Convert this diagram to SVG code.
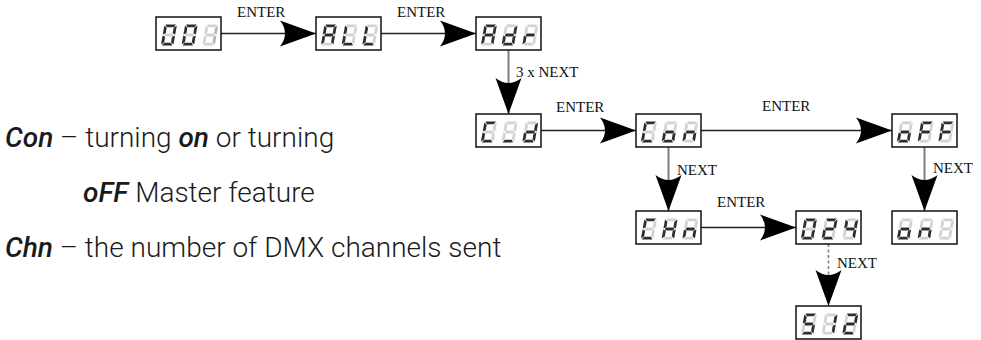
<svg xmlns="http://www.w3.org/2000/svg" xmlns:xlink="http://www.w3.org/1999/xlink" width="981" height="340" viewBox="0 0 981 340">
<style>
.box{fill:#fff;stroke:#111;stroke-width:1.5}
.hl{fill:none;stroke:#222;stroke-width:1.3}
.vl{fill:none;stroke:#808080;stroke-width:2}
.dl{fill:none;stroke:#808080;stroke-width:1.6;stroke-dasharray:3 2.5}
.lbl{font-family:"Liberation Serif","Times New Roman",serif;font-size:15px;fill:#111}
.txt{font-family:Roboto,"Liberation Sans",sans-serif;font-size:28px;font-weight:300;fill:#1a1a1a}
.em{font-style:italic;font-weight:500}
.on{fill:#2e2e2e}
.off{fill:#d2d2d2}
.dim{fill:#b4b4b4}
</style>
<defs>
<path id="sa" d="M1,0 L11.5,0 L9.7,2.8 L2.8,2.8 Z"/>
<path id="sb" d="M12.5,1 L9.7,3.3 L9.7,8.7 L12.5,10 Z"/>
<path id="sc" d="M12.5,11 L9.7,12.3 L9.7,17.7 L12.5,20 Z"/>
<path id="sd" d="M1,21 L11.5,21 L9.7,18.2 L2.8,18.2 Z"/>
<path id="se" d="M0,11 L2.8,12.3 L2.8,17.7 L0,20 Z"/>
<path id="sf" d="M0,1 L2.8,3.3 L2.8,8.7 L0,10 Z"/>
<path id="sg" d="M1.4,10.5 L2.8,9.1 L9.7,9.1 L11.1,10.5 L9.7,11.9 L2.8,11.9 Z"/>
<g id="c0"><use href="#sa" class="on"/><use href="#sb" class="on"/><use href="#sc" class="on"/><use href="#sd" class="on"/><use href="#se" class="on"/><use href="#sf" class="on"/><use href="#sg" class="off"/></g>
<g id="c1"><use href="#sa" class="off"/><use href="#sb" class="on"/><use href="#sc" class="on"/><use href="#sd" class="off"/><use href="#se" class="off"/><use href="#sf" class="off"/><use href="#sg" class="off"/></g>
<g id="c1d"><use href="#sa" class="off"/><use href="#sb" class="dim"/><use href="#sc" class="dim"/><use href="#sd" class="off"/><use href="#se" class="off"/><use href="#sf" class="off"/><use href="#sg" class="off"/></g>
<g id="c2"><use href="#sa" class="on"/><use href="#sb" class="on"/><use href="#sc" class="off"/><use href="#sd" class="on"/><use href="#se" class="on"/><use href="#sf" class="off"/><use href="#sg" class="on"/></g>
<g id="c4"><use href="#sa" class="off"/><use href="#sb" class="on"/><use href="#sc" class="on"/><use href="#sd" class="off"/><use href="#se" class="off"/><use href="#sf" class="on"/><use href="#sg" class="on"/></g>
<g id="c5"><use href="#sa" class="on"/><use href="#sb" class="off"/><use href="#sc" class="on"/><use href="#sd" class="on"/><use href="#se" class="off"/><use href="#sf" class="on"/><use href="#sg" class="on"/></g>
<g id="cA"><use href="#sa" class="on"/><use href="#sb" class="on"/><use href="#sc" class="on"/><use href="#sd" class="off"/><use href="#se" class="on"/><use href="#sf" class="on"/><use href="#sg" class="on"/></g>
<g id="cL"><use href="#sa" class="off"/><use href="#sb" class="off"/><use href="#sc" class="off"/><use href="#sd" class="on"/><use href="#se" class="on"/><use href="#sf" class="on"/><use href="#sg" class="off"/></g>
<g id="cd"><use href="#sa" class="off"/><use href="#sb" class="on"/><use href="#sc" class="on"/><use href="#sd" class="on"/><use href="#se" class="on"/><use href="#sf" class="off"/><use href="#sg" class="on"/></g>
<g id="cr"><use href="#sa" class="off"/><use href="#sb" class="off"/><use href="#sc" class="off"/><use href="#sd" class="off"/><use href="#se" class="on"/><use href="#sf" class="off"/><use href="#sg" class="on"/></g>
<g id="cC"><use href="#sa" class="on"/><use href="#sb" class="off"/><use href="#sc" class="off"/><use href="#sd" class="on"/><use href="#se" class="on"/><use href="#sf" class="on"/><use href="#sg" class="off"/></g>
<g id="cH"><use href="#sa" class="off"/><use href="#sb" class="on"/><use href="#sc" class="on"/><use href="#sd" class="off"/><use href="#se" class="on"/><use href="#sf" class="on"/><use href="#sg" class="on"/></g>
<g id="cn"><use href="#sa" class="off"/><use href="#sb" class="off"/><use href="#sc" class="on"/><use href="#sd" class="off"/><use href="#se" class="on"/><use href="#sf" class="off"/><use href="#sg" class="on"/></g>
<g id="co"><use href="#sa" class="off"/><use href="#sb" class="off"/><use href="#sc" class="on"/><use href="#sd" class="on"/><use href="#se" class="on"/><use href="#sf" class="off"/><use href="#sg" class="on"/></g>
<g id="cF"><use href="#sa" class="on"/><use href="#sb" class="off"/><use href="#sc" class="off"/><use href="#sd" class="off"/><use href="#se" class="on"/><use href="#sf" class="on"/><use href="#sg" class="on"/></g>
<g id="ci"><use href="#sa" class="off"/><use href="#sb" class="off"/><use href="#sc" class="off"/><use href="#sd" class="on"/><use href="#se" class="off"/><use href="#sf" class="off"/><use href="#sg" class="off"/></g>
<g id="cx"><use href="#sa" class="off"/><use href="#sb" class="off"/><use href="#sc" class="off"/><use href="#sd" class="off"/><use href="#se" class="off"/><use href="#sf" class="off"/><use href="#sg" class="off"/></g>
<marker id="ah" viewBox="-38 -15 40 30" refX="0" refY="0" markerWidth="40" markerHeight="30" markerUnits="userSpaceOnUse" orient="auto">
<path d="M0,0 L-36,-13 Q-26,0 -36,13 Z" fill="#000"/>
</marker>
</defs>

<g id="connectors">
<path class="hl" d="M221,33.5 H316" marker-end="url(#ah)"/>
<path class="hl" d="M381,33.5 H476" marker-end="url(#ah)"/>
<path class="vl" d="M508.5,50 V114" marker-end="url(#ah)"/>
<path class="hl" d="M541,130.5 H636" marker-end="url(#ah)"/>
<path class="hl" d="M701,130.5 H892" marker-end="url(#ah)"/>
<path class="vl" d="M668.5,147 V211" marker-end="url(#ah)"/>
<path class="vl" d="M924.5,147 V211" marker-end="url(#ah)"/>
<path class="hl" d="M701,227.5 H796" marker-end="url(#ah)"/>
<path class="dl" d="M828.5,244 V306" marker-end="url(#ah)"/>
<text class="lbl" x="237" y="17">ENTER</text>
<text class="lbl" x="397" y="17">ENTER</text>
<text class="lbl" x="516" y="77">3 x NEXT</text>
<text class="lbl" x="556" y="112">ENTER</text>
<text class="lbl" x="762" y="111">ENTER</text>
<text class="lbl" x="677" y="175">NEXT</text>
<text class="lbl" x="933" y="173">NEXT</text>
<text class="lbl" x="717" y="207">ENTER</text>
<text class="lbl" x="837" y="268">NEXT</text>
</g>

<g id="n001" transform="translate(156,17)">
<rect class="box" width="65" height="33"/>
<use href="#c0" transform="translate(8.5,7.5) skewX(-10)"/><use href="#c0" transform="translate(29.2,7.5) skewX(-10)"/><use href="#c1d" transform="translate(49.9,7.5) skewX(-10)"/>
</g>
<g id="nALL" transform="translate(316,17)">
<rect class="box" width="65" height="33"/>
<use href="#cA" transform="translate(8.5,7.5) skewX(-10)"/><use href="#cL" transform="translate(29.2,7.5) skewX(-10)"/><use href="#cL" transform="translate(49.9,7.5) skewX(-10)"/>
</g>
<g id="nAdr" transform="translate(476,17)">
<rect class="box" width="65" height="33"/>
<use href="#cA" transform="translate(8.5,7.5) skewX(-10)"/><use href="#cd" transform="translate(29.2,7.5) skewX(-10)"/><use href="#cr" transform="translate(49.9,7.5) skewX(-10)"/>
</g>
<g id="nCid" transform="translate(476,114)">
<rect class="box" width="65" height="33"/>
<use href="#cC" transform="translate(8.5,7.5) skewX(-10)"/><use href="#ci" transform="translate(29.2,7.5) skewX(-10)"/><use href="#cd" transform="translate(49.9,7.5) skewX(-10)"/>
</g>
<g id="nCon" transform="translate(636,114)">
<rect class="box" width="65" height="33"/>
<use href="#cC" transform="translate(8.5,7.5) skewX(-10)"/><use href="#co" transform="translate(29.2,7.5) skewX(-10)"/><use href="#cn" transform="translate(49.9,7.5) skewX(-10)"/>
</g>
<g id="noFF" transform="translate(892,114)">
<rect class="box" width="65" height="33"/>
<use href="#co" transform="translate(8.5,7.5) skewX(-10)"/><use href="#cF" transform="translate(29.2,7.5) skewX(-10)"/><use href="#cF" transform="translate(49.9,7.5) skewX(-10)"/>
</g>
<g id="nCHn" transform="translate(636,211)">
<rect class="box" width="65" height="33"/>
<use href="#cC" transform="translate(8.5,7.5) skewX(-10)"/><use href="#cH" transform="translate(29.2,7.5) skewX(-10)"/><use href="#cn" transform="translate(49.9,7.5) skewX(-10)"/>
</g>
<g id="n024" transform="translate(796,211)">
<rect class="box" width="65" height="33"/>
<use href="#c0" transform="translate(8.5,7.5) skewX(-10)"/><use href="#c2" transform="translate(29.2,7.5) skewX(-10)"/><use href="#c4" transform="translate(49.9,7.5) skewX(-10)"/>
</g>
<g id="non" transform="translate(892,211)">
<rect class="box" width="65" height="33"/>
<use href="#co" transform="translate(8.5,7.5) skewX(-10)"/><use href="#cn" transform="translate(29.2,7.5) skewX(-10)"/><use href="#cx" transform="translate(49.9,7.5) skewX(-10)"/>
</g>
<g id="n512" transform="translate(796,306)">
<rect class="box" width="65" height="33"/>
<use href="#c5" transform="translate(8.5,7.5) skewX(-10)"/><use href="#c1" transform="translate(29.2,7.5) skewX(-10)"/><use href="#c2" transform="translate(49.9,7.5) skewX(-10)"/>
</g>

<g id="legend">
<text class="txt" x="5" y="147"><tspan class="em">Con</tspan> – turning <tspan class="em">on</tspan> or turning</text>
<text class="txt" x="83" y="202"><tspan class="em">oFF</tspan> Master feature</text>
<text class="txt" x="5" y="257"><tspan class="em">Chn</tspan> – the number of DMX channels sent</text>
</g>
</svg>
